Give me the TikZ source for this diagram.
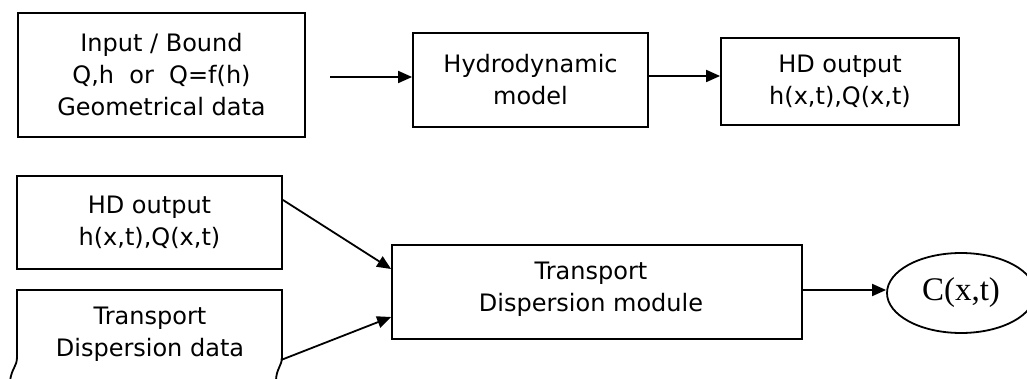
\documentclass[tikz,border=0pt]{standalone}
\usepackage{fontspec}
\setmainfont{DejaVu Sans}
\newfontfamily\serifface{Liberation Serif}
\usetikzlibrary{arrows.meta,shapes.geometric}
\begin{document}
\begin{tikzpicture}[x=1pt,y=-1pt,
  lbl/.style={font=\fontsize{24}{32}\selectfont, align=center, inner sep=0pt},
  blk/.style={lbl, draw, line width=1.8pt, minimum width=#1},
  flow/.style={line width=1.8pt, -{Triangle[length=14pt,width=12pt]}}]
  \useasboundingbox (0,0) rectangle (1027,379);

  % upper chain: inputs -> hydrodynamic model -> HD output
  \node[blk=287pt, minimum height=124pt] (inp) at (161.5,75)
    {Input / Bound\\Q,h\ \ or\ \ Q=f(h)\\Geometrical data};
  \node[blk=235pt, minimum height=94pt] (hyd) at (530.5,80)
    {Hydrodynamic\\model};
  \node[blk=238pt, minimum height=87pt] (hdo) at (840,81.5)
    {HD output\\h(x,t),Q(x,t)};
  \coordinate (a1) at (330,77);
  \draw[flow] (a1) -- (a1 -| hyd.west);
  \draw[flow] (hyd.east |- 0,76) -- (hdo.west |- 0,76);

  % lower chain: HD output + transport data -> transport module -> C(x,t)
  \node[blk=265pt, minimum height=93pt] (hdi) at (149.5,222.5)
    {HD output\\h(x,t),Q(x,t)};
  \node[lbl] (tdd) at (150,334) {Transport\\Dispersion data};
  \draw[line width=1.8pt]
    (10,381) .. controls (12,367) and (17,367) .. (17,357) -- (17,290)
    -- (282,290) -- (282,357) .. controls (282,366) and (276,369) .. (276,381);
  \node[draw, line width=1.8pt, minimum width=410pt, minimum height=94pt] (tdm) at (597,292) {};
  \node[lbl] (tdmtxt) at (591,289) {Transport\\Dispersion module};
  \node[draw, ellipse, line width=1.8pt, minimum width=148pt, minimum height=80pt,
        inner sep=0pt, font=\serifface\fontsize{33}{36}\selectfont] (cxt) at (961,293) {C(x,t)};

  \coordinate (s1) at (283,200);
  \coordinate (s2) at (281,360);
  \draw[flow] (s1) -- (tdm.west |- 0,269);
  \draw[flow] (s2) -- (tdm.west |- 0,317);
  \draw[flow] (tdm.east |- 0,290) -- (cxt.west |- 0,290);
\end{tikzpicture}
\end{document}
